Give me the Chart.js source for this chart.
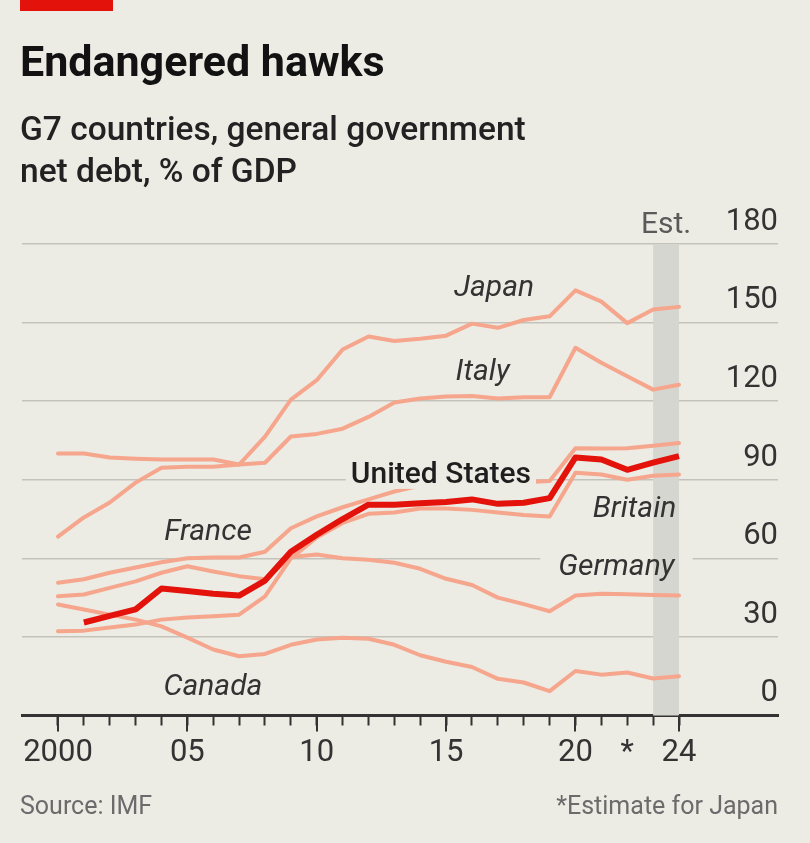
<!DOCTYPE html>
<html><head><meta charset="utf-8">
<script src="https://cdn.jsdelivr.net/npm/chart.js@4.4.1/dist/chart.umd.min.js"></script>
<style>
html,body{margin:0;padding:0;background:#ecebe4;}
#wrap{position:relative;width:810px;height:843px;overflow:hidden;background:#ecebe4;font-family:Roboto,"Liberation Sans",sans-serif;}
#bar{position:absolute;left:20px;top:0;width:93px;height:11px;background:#e3120b;}
#title{position:absolute;left:20px;top:40px;font-size:43px;line-height:43px;font-weight:700;color:#121212;white-space:nowrap;}
#sub{position:absolute;left:20px;top:108px;font-size:33.5px;line-height:42px;font-weight:500;color:#222222;white-space:nowrap;}
#src{position:absolute;left:20px;top:793px;font-size:25px;line-height:25px;color:#6b6b6b;}
#note{position:absolute;right:32px;top:793px;font-size:25px;line-height:25px;color:#6b6b6b;}
canvas{position:absolute;left:0;top:0;}
</style></head>
<body>
<div id="wrap">
<canvas id="c" width="810" height="843"></canvas>
<div id="bar"></div>
<div id="title">Endangered hawks</div>
<div id="sub">G7 countries, general government<br>net debt, % of GDP</div>
<div id="src">Source: IMF</div>
<div id="note">*Estimate for Japan</div>
</div>
<script>
// ---- data ----
const years = [2000,2001,2002,2003,2004,2005,2006,2007,2008,2009,2010,2011,2012,2013,2014,2015,2016,2017,2018,2019,2020,2021,2022,2023,2024];
const japan = [68.3,75.6,81.3,88.9,94.6,95.0,95.0,95.8,106.5,120.6,128.0,139.7,144.7,143.0,143.8,145.0,149.6,148.0,151.0,152.4,162.3,158.0,149.8,155.0,156.0];
const italy = [100.0,100.0,98.5,98.0,97.7,97.7,97.7,95.8,96.5,106.5,107.5,109.5,114.0,119.5,121.0,121.8,122.0,121.0,121.5,121.5,140.4,134.7,129.5,124.4,126.3];
const france = [50.7,52.0,54.5,56.5,58.5,60.0,60.3,60.3,62.5,71.5,76.0,79.5,82.5,85.5,87.8,89.0,89.5,89.5,89.0,89.5,102.0,101.9,102.0,103.0,104.0];
const britain = [32.2,32.4,33.6,34.7,36.6,37.4,37.9,38.5,45.5,60.0,68.0,73.5,77.0,77.5,79.0,79.0,78.5,77.5,76.5,76.0,92.7,92.0,90.0,91.5,92.0];
const germany = [45.5,46.2,48.7,51.2,54.5,57.0,55.0,53.2,52.0,60.5,61.5,60.0,59.5,58.3,56.0,52.2,49.8,45.0,42.5,39.8,45.8,46.5,46.3,46.0,45.8];
const canada = [42.4,40.5,38.5,36.6,34.0,29.7,25.2,22.6,23.5,27.0,29.0,29.7,29.3,27.0,23.0,20.5,18.5,14.0,12.6,9.3,17.0,15.6,16.4,14.1,15.0];
const unitedStates = [null,35.5,38.0,40.5,48.5,47.5,46.5,45.8,51.5,62.5,69.0,75.0,80.5,80.5,81.0,81.5,82.5,80.8,81.2,83.0,98.5,97.7,93.8,96.5,99.0];

const yTickValues = [0,30,60,90,120,150,180];
const xTickLabels = {2000:'2000',2005:'05',2010:'10',2015:'15',2020:'20',2022:'*',2024:'24'};
const majorYears = [2000,2005,2010,2015,2020,2024];
const estimateSpan = [2023,2024];

// label placement (data coordinates: year, value at baseline)
const seriesLabels = [
  {text:'Japan', x:2016.85, y:160.2, style:'italic 30px Roboto', pad:4},
  {text:'Italy', x:2016.41, y:128.2, style:'italic 30px Roboto', pad:4},
  {text:'United States', x:2014.80, y:88.8, style:'500 30px Roboto', pad:5, late:true},
  {text:'France', x:2005.80, y:67.0, style:'italic 30px Roboto', pad:4},
  {text:'Britain', x:2022.28, y:75.8, style:'italic 30px Roboto', pad:4},
  {text:'Germany', x:2021.58, y:53.7, style:'italic 30px Roboto', pad:18},
  {text:'Canada', x:2005.99, y:7.8, style:'italic 30px Roboto', pad:4}
];
const estLabel = {text:'Est.', x:2023.5, y:184.3};

const BG = '#ecebe4';
const LIGHT = '#f5a68c';
const RED = '#e3120b';

function pts(arr){ return years.map((yr,i)=>({x:yr, y:arr[i]})); }

function labelBox(ctx, chart, L){
  const xs = chart.scales.x, ys = chart.scales.y;
  ctx.font = L.style;
  const w = ctx.measureText(L.text).width;
  const cx = xs.getPixelForValue(L.x), by = ys.getPixelForValue(L.y);
  return {x: cx - w/2 - L.pad, y: by - 25, w: w + 2*L.pad, h: 31, cx, by};
}

const decor = {
  id:'decor',
  beforeDatasetsDraw(chart){
    const ctx = chart.ctx, a = chart.chartArea, xs = chart.scales.x;
    ctx.save();
    ctx.fillStyle = BG;
    seriesLabels.forEach(L=>{ const b = labelBox(ctx, chart, L); ctx.fillRect(b.x,b.y,b.w,b.h); });
    const x0 = xs.getPixelForValue(estimateSpan[0]), x1 = xs.getPixelForValue(estimateSpan[1]);
    ctx.fillStyle = '#d6d6d0';
    ctx.fillRect(x0, a.top, x1-x0, a.bottom-a.top);
    ctx.restore();
  },
  afterDatasetsDraw(chart){
    const ctx = chart.ctx, xs = chart.scales.x, ys = chart.scales.y;
    ctx.save();
    seriesLabels.filter(L=>L.late).forEach(L=>{ const b = labelBox(ctx, chart, L); ctx.fillStyle = BG; ctx.fillRect(b.x,b.y,b.w,b.h); });
    ctx.textAlign = 'center';
    ctx.textBaseline = 'alphabetic';
    seriesLabels.forEach(L=>{
      ctx.font = L.style;
      ctx.fillStyle = L.late ? '#1e1e1e' : '#333333';
      ctx.fillText(L.text, xs.getPixelForValue(L.x), ys.getPixelForValue(L.y));
    });
    ctx.font = '30px Roboto';
    ctx.fillStyle = '#5a5a5a';
    ctx.fillText(estLabel.text, xs.getPixelForValue(estLabel.x), ys.getPixelForValue(estLabel.y));
    ctx.restore();
  },
  afterDraw(chart){
    const ctx = chart.ctx, a = chart.chartArea, xs = chart.scales.x;
    ctx.save();
    ctx.strokeStyle = '#333333';
    ctx.lineWidth = 2;
    majorYears.forEach(yr=>{
      const px = Math.round(xs.getPixelForValue(yr));
      ctx.beginPath(); ctx.moveTo(px, a.bottom); ctx.lineTo(px, a.bottom + 16); ctx.stroke();
    });
    ctx.restore();
  }
};

const lightDs = (label, arr) => ({label, data: pts(arr), borderColor: LIGHT, borderWidth: 4, pointRadius: 0, tension: 0, borderJoinStyle: 'round', borderCapStyle: 'round', order: 1, spanGaps: false});

new Chart(document.getElementById('c'), {
  type: 'line',
  data: {
    datasets: [
      {label:'United States', data: pts(unitedStates), borderColor: RED, borderWidth: 6, pointRadius: 0, tension: 0, borderJoinStyle:'round', borderCapStyle:'butt', order: 0},
      lightDs('Japan', japan),
      lightDs('Italy', italy),
      lightDs('France', france),
      lightDs('Britain', britain),
      lightDs('Germany', germany),
      lightDs('Canada', canada)
    ]
  },
  options: {
    responsive: false,
    devicePixelRatio: 1,
    animation: false,
    events: [],
    layout: { padding: { left: 22, right: 32, top: 244, bottom: 0 } },
    plugins: { legend: { display: false }, tooltip: { enabled: false } },
    scales: {
      x: {
        type: 'linear',
        min: 1998.609, max: 2027.826,
        afterBuildTicks: s => { s.ticks = years.map(v => ({value: v})); },
        afterFit: s => { s.height = 843 - 715.5; },
        ticks: {
          autoSkip: false, maxRotation: 0, padding: 9,
          font: { family: 'Roboto', size: 31 }, color: '#333333',
          callback: v => (xTickLabels[v] !== undefined ? xTickLabels[v] : '')
        },
        grid: { drawOnChartArea: false, drawTicks: true, tickLength: 10, tickWidth: 2, tickColor: '#333333', color: '#333333' },
        border: { display: true, color: '#333333', width: 3 }
      },
      y: {
        position: 'right',
        min: 0, max: 180,
        afterBuildTicks: s => { s.ticks = yTickValues.map(v => ({value: v})); },
        afterFit: s => { s.width = 0; },
        ticks: { mirror: true, padding: 0, labelOffset: -22, font: { family: 'Roboto', size: 31 }, color: '#333333' },
        grid: { color: '#c4c3bb', lineWidth: 1.5, drawTicks: false },
        border: { display: false }
      }
    }
  },
  plugins: [decor]
});
</script>
</body></html>
